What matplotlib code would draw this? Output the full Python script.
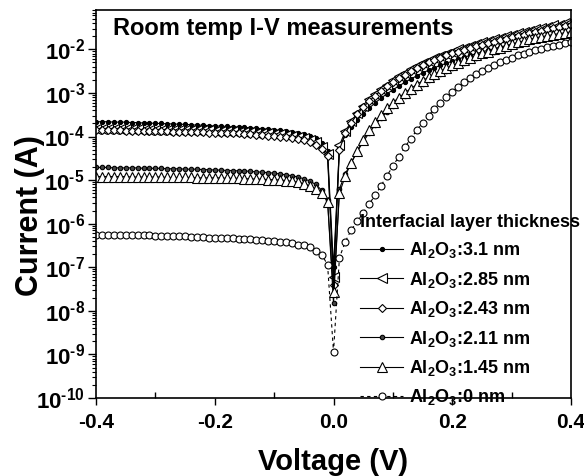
import numpy as np
import matplotlib
matplotlib.use("Agg")
import matplotlib.pyplot as plt
from matplotlib.ticker import FixedLocator, LogLocator, NullFormatter, FuncFormatter

plt.rcParams['font.family'] = ['Liberation Sans', 'DejaVu Sans']
plt.rcParams['mathtext.fontset'] = 'custom'
plt.rcParams['mathtext.rm'] = 'Liberation Sans:bold'
plt.rcParams['mathtext.bf'] = 'Liberation Sans:bold'
plt.rcParams['mathtext.it'] = 'Liberation Sans:bold'
plt.rcParams['mathtext.default'] = 'bf'

# ---------------- data ----------------
voltage = np.round(np.linspace(-0.40, 0.40, 81), 2)

labels = [r'Al$_2$O$_3$:3.1 nm', r'Al$_2$O$_3$:2.85 nm', r'Al$_2$O$_3$:2.43 nm',
          r'Al$_2$O$_3$:2.11 nm', r'Al$_2$O$_3$:1.45 nm', r'Al$_2$O$_3$:0 nm']

# log10(current / A)
log_i_31 = [-3.66,-3.66,-3.66,-3.67,-3.67,-3.67,-3.68,-3.68,-3.69,-3.69,-3.70,-3.70,-3.71,-3.71,-3.72,-3.72,-3.73,-3.74,-3.74,-3.75,
            -3.76,-3.76,-3.77,-3.78,-3.78,-3.79,-3.80,-3.81,-3.82,-3.83,-3.84,-3.86,-3.87,-3.89,-3.91,-3.94,-3.98,-4.04,-4.14,-4.33,
            -7.00,
            -4.25,-3.97,-3.78,-3.62,-3.48,-3.35,-3.23,-3.12,-3.02,-2.93,-2.84,-2.76,-2.68,-2.61,-2.54,-2.48,-2.42,-2.37,-2.32,-2.27,
            -2.22,-2.18,-2.14,-2.10,-2.06,-2.02,-1.99,-1.95,-1.92,-1.89,-1.86,-1.83,-1.80,-1.77,-1.74,-1.72,-1.69,-1.67,-1.64,-1.62]
log_i_285 = [-3.82,-3.82,-3.82,-3.82,-3.83,-3.83,-3.83,-3.83,-3.84,-3.84,-3.84,-3.84,-3.85,-3.85,-3.85,-3.85,-3.86,-3.86,-3.86,-3.86,
             -3.87,-3.87,-3.88,-3.88,-3.89,-3.89,-3.90,-3.91,-3.92,-3.93,-3.94,-3.95,-3.96,-3.98,-4.00,-4.03,-4.07,-4.13,-4.23,-4.40,
             -7.22,
             -4.20,-3.88,-3.65,-3.46,-3.29,-3.15,-3.02,-2.91,-2.81,-2.71,-2.62,-2.54,-2.46,-2.39,-2.32,-2.26,-2.20,-2.15,-2.10,-2.05,
             -2.00,-1.96,-1.92,-1.88,-1.84,-1.80,-1.77,-1.73,-1.70,-1.66,-1.63,-1.60,-1.57,-1.54,-1.51,-1.48,-1.45,-1.43,-1.40,-1.38]
log_i_243 = [-3.86,-3.86,-3.86,-3.86,-3.86,-3.87,-3.87,-3.87,-3.87,-3.88,-3.88,-3.88,-3.88,-3.89,-3.89,-3.89,-3.90,-3.90,-3.90,-3.91,
             -3.91,-3.92,-3.92,-3.93,-3.93,-3.94,-3.95,-3.96,-3.97,-3.98,-3.99,-4.00,-4.02,-4.04,-4.06,-4.09,-4.13,-4.19,-4.28,-4.45,
             -7.40,
             -4.30,-3.93,-3.68,-3.49,-3.33,-3.19,-3.06,-2.95,-2.85,-2.75,-2.66,-2.58,-2.50,-2.43,-2.36,-2.30,-2.24,-2.19,-2.14,-2.09,
             -2.05,-2.01,-1.97,-1.93,-1.89,-1.86,-1.82,-1.79,-1.76,-1.72,-1.69,-1.66,-1.63,-1.60,-1.57,-1.54,-1.52,-1.49,-1.47,-1.44]
log_i_211 = [-4.71,-4.71,-4.71,-4.72,-4.72,-4.72,-4.72,-4.72,-4.73,-4.73,-4.73,-4.73,-4.74,-4.74,-4.74,-4.75,-4.75,-4.75,-4.76,-4.76,
             -4.77,-4.77,-4.78,-4.78,-4.79,-4.79,-4.80,-4.81,-4.82,-4.83,-4.84,-4.86,-4.88,-4.90,-4.93,-4.97,-5.02,-5.10,-5.23,-5.45,
             -7.82,
             -5.20,-4.85,-4.60,-4.35,-4.12,-3.92,-3.74,-3.58,-3.44,-3.31,-3.19,-3.08,-2.98,-2.88,-2.79,-2.71,-2.63,-2.56,-2.49,-2.43,
             -2.37,-2.31,-2.25,-2.19,-2.14,-2.10,-2.05,-2.01,-1.97,-1.93,-1.89,-1.86,-1.82,-1.79,-1.76,-1.73,-1.71,-1.68,-1.66,-1.64]
log_i_145 = [-4.92,-4.92,-4.92,-4.92,-4.92,-4.92,-4.93,-4.93,-4.93,-4.93,-4.93,-4.93,-4.94,-4.94,-4.94,-4.94,-4.94,-4.95,-4.95,-4.95,
             -4.95,-4.95,-4.96,-4.96,-4.96,-4.97,-4.97,-4.98,-4.98,-4.99,-4.99,-5.00,-5.01,-5.03,-5.05,-5.08,-5.13,-5.20,-5.30,-5.50,
             -7.56,
             -5.30,-4.90,-4.60,-4.33,-4.08,-3.86,-3.67,-3.50,-3.35,-3.22,-3.11,-3.00,-2.90,-2.81,-2.72,-2.64,-2.57,-2.50,-2.43,-2.37,
             -2.31,-2.25,-2.19,-2.14,-2.09,-2.05,-2.00,-1.96,-1.92,-1.88,-1.84,-1.81,-1.77,-1.74,-1.71,-1.69,-1.66,-1.64,-1.62,-1.60]
log_i_0 = [-6.25,-6.25,-6.25,-6.26,-6.26,-6.26,-6.26,-6.27,-6.27,-6.27,-6.28,-6.28,-6.28,-6.29,-6.29,-6.29,-6.30,-6.30,-6.31,-6.32,
           -6.33,-6.33,-6.34,-6.34,-6.35,-6.36,-6.36,-6.37,-6.38,-6.39,-6.40,-6.42,-6.43,-6.45,-6.48,-6.50,-6.54,-6.62,-6.71,-6.94,
           -8.94,
           -6.78,-6.41,-6.14,-5.95,-5.75,-5.55,-5.35,-5.13,-4.90,-4.68,-4.46,-4.25,-4.05,-3.86,-3.69,-3.52,-3.36,-3.22,-3.09,-2.97,
           -2.86,-2.75,-2.66,-2.57,-2.49,-2.42,-2.36,-2.30,-2.24,-2.19,-2.14,-2.10,-2.06,-2.02,-1.99,-1.95,-1.92,-1.89,-1.86,-1.83]

series = [log_i_31, log_i_285, log_i_243, log_i_211, log_i_145, log_i_0]
styles = [
    dict(marker='o', ms=3.0, mfc='black', mec='black', ls='-'),
    dict(marker='<', ms=6.5, mfc='white', mec='black', ls='-'),
    dict(marker='D', ms=3.8, mfc='white', mec='black', ls='-'),
    dict(marker='o', ms=3.2, mfc='#444444', mec='black', ls='-'),
    dict(marker='^', ms=7.0, mfc='white', mec='black', ls='-'),
    dict(marker='o', ms=5.0, mfc='white', mec='black', ls=(0, (3, 3))),
]

# ---------------- figure ----------------
fig = plt.figure(figsize=(5.84, 4.76), dpi=100)
ax = fig.add_axes([96/584, 1-398/476, (571-96)/584, (398-10)/476])

for vals, lab, st in zip(series, labels, styles):
    ax.plot(voltage, 10.0**np.array(vals), color='black', lw=0.8, mew=0.8,
            label=lab, **st)

ax.set_yscale('log')
ax.set_xlim(-0.4, 0.4)
ax.set_ylim(1e-10, 0.08)

ax.xaxis.set_major_locator(FixedLocator([-0.4, -0.2, 0.0, 0.2, 0.4]))
ax.xaxis.set_minor_locator(FixedLocator([-0.3, -0.1, 0.1, 0.3]))
ax.xaxis.set_major_formatter(FuncFormatter(lambda v, p: f'{v:.1f}'))
ax.yaxis.set_major_locator(FixedLocator([10.0**k for k in range(-10, -1)]))
ax.yaxis.set_minor_locator(LogLocator(base=10, subs=np.arange(2, 10), numticks=20))
ax.yaxis.set_minor_formatter(NullFormatter())
ax.yaxis.set_major_formatter(FuncFormatter(
    lambda v, p: r'$10^{\text{-}%d}$' % abs(round(np.log10(v)))))

ax.tick_params(axis='x', which='major', direction='out', length=5, width=1,
               labelsize=15, pad=6)
ax.tick_params(axis='x', which='minor', direction='in', length=4, width=1)
ax.tick_params(axis='y', which='major', direction='out', length=6, width=1,
               labelsize=16, pad=2)
ax.tick_params(axis='y', which='minor', direction='out', length=3, width=0.8)
for lbl in ax.get_xticklabels():
    lbl.set_fontweight('bold')
for s in ax.spines.values():
    s.set_linewidth(1.2)

fig.text(113/584, 1-28/476, 'Room temp I-V measurements', fontsize=17,
         fontweight='bold', ha='left', va='center')
fig.text(333/584, 1-462/476, 'Voltage (V)', fontsize=21, fontweight='bold',
         ha='center', va='center')
fig.text(30/584, 1-216/476, 'Current (A)', fontsize=22, fontweight='bold',
         ha='center', va='center', rotation=90)

leg = ax.legend(loc='upper left', bbox_to_anchor=(360/584, 1-214/476),
                bbox_transform=fig.transFigure, frameon=False,
                title='Interfacial layer thickness',
                title_fontproperties={'weight': 'bold', 'size': 13},
                prop={'weight': 'bold', 'size': 13},
                handlelength=2.4, handletextpad=0.3, labelspacing=0.52,
                borderpad=0, borderaxespad=0, alignment='left')

fig.savefig('out.png', dpi=100)
